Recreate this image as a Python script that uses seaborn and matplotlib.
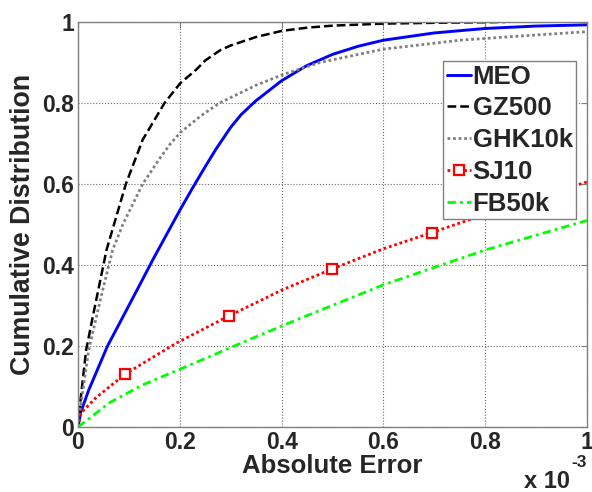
import numpy as np
import matplotlib
matplotlib.use("Agg")
import matplotlib.pyplot as plt
import matplotlib.ticker as tkr
import seaborn as sns

# absolute error values in units of 1e-3, cumulative fraction
meo_x = [0, 0.005, 0.021, 0.058, 0.1, 0.15, 0.2, 0.225, 0.25, 0.271, 0.3, 0.321,
         0.35, 0.4, 0.449, 0.5, 0.55, 0.6, 0.7, 0.8, 0.9, 1.0]
meo_y = [0, 0.035, 0.091, 0.2, 0.3, 0.42, 0.535, 0.59, 0.643, 0.686, 0.74, 0.772,
         0.806, 0.855, 0.892, 0.92, 0.94, 0.955, 0.973, 0.984, 0.99, 0.993]

gz_x = [0, 0.005, 0.016, 0.029, 0.056, 0.094, 0.127, 0.17, 0.201, 0.232, 0.25,
        0.279, 0.3, 0.35, 0.4, 0.45, 0.5, 0.6, 0.7, 0.84]
gz_y = [0, 0.067, 0.19, 0.272, 0.437, 0.6, 0.709, 0.8, 0.849, 0.882, 0.905,
        0.93, 0.942, 0.963, 0.978, 0.986, 0.991, 0.996, 0.998, 1.0]

ghk_x = [0, 0.005, 0.021, 0.045, 0.068, 0.088, 0.127, 0.16, 0.18, 0.201, 0.24,
         0.278, 0.35, 0.4, 0.475, 0.6, 0.75, 0.9, 1.0]
ghk_y = [0, 0.05, 0.19, 0.32, 0.437, 0.5, 0.6, 0.662, 0.697, 0.727, 0.767,
         0.8, 0.844, 0.869, 0.9, 0.933, 0.955, 0.968, 0.976]

sj_x = [0, 0.006, 0.035, 0.093, 0.193, 0.296, 0.35, 0.4, 0.499, 0.6, 0.695,
        0.8, 0.895, 1.0]
sj_y = [0, 0.035, 0.072, 0.131, 0.207, 0.274, 0.307, 0.338, 0.39, 0.44, 0.48,
        0.525, 0.565, 0.605]
sj_marks = [3, 5, 8, 10, 12]

fb_x = [0, 0.062, 0.127, 0.201, 0.35, 0.436, 0.6, 0.8, 1.0]
fb_y = [0, 0.06, 0.104, 0.143, 0.223, 0.268, 0.351, 0.437, 0.51]

SCALE = 1e-3

sns.set_theme(style="white")
plt.rcParams["font.family"] = ["Liberation Sans", "DejaVu Sans"]
plt.rcParams["font.weight"] = "bold"

fig = plt.figure(figsize=(5.92, 4.92), dpi=100)
ax = fig.add_axes([78 / 592, 65 / 492, 509 / 592, 405 / 492])

common = dict(ax=ax, estimator=None, sort=False)
sns.lineplot(x=np.array(meo_x) * SCALE, y=meo_y, color="#0000ff", linewidth=2.1,
             label="MEO", **common)
sns.lineplot(x=np.array(gz_x) * SCALE, y=gz_y, color="black", linewidth=1.8,
             linestyle=(0, (3.5, 1.6)), label="GZ500", **common)
sns.lineplot(x=np.array(ghk_x) * SCALE, y=ghk_y, color="#808080", linewidth=2.0,
             linestyle=(0, (1, 1)), label="GHK10k", **common)
sns.lineplot(x=np.array(sj_x) * SCALE, y=sj_y, color="#ff0000", linewidth=2.0,
             linestyle=(0, (1, 1)), marker="s", markersize=6.5,
             markerfacecolor="white", markeredgecolor="#ff0000",
             markeredgewidth=1.6, markevery=sj_marks, label="SJ10", **common)
sns.lineplot(x=np.array(fb_x) * SCALE, y=fb_y, color="#00ff00", linewidth=2.0,
             linestyle=(0, (3, 1.5, 1, 1.5)), label="FB50k", **common)

ax.set_xlim(0, 1e-3)
ax.set_ylim(0, 1)
ax.set_xticks(np.arange(0, 1.01, 0.2) * SCALE)
ax.set_yticks(np.arange(0, 1.01, 0.2))
ax.xaxis.set_major_formatter(tkr.FuncFormatter(lambda v, p: "%g" % round(v / SCALE, 3)))
ax.yaxis.set_major_formatter(tkr.FuncFormatter(lambda v, p: "%g" % round(v, 3)))

ax.grid(True, linestyle=":", color="#6e6e6e", linewidth=0.8)
for s in ax.spines.values():
    s.set_color("#808080")
    s.set_linewidth(1.0)
ax.tick_params(direction="in", length=4, width=0.8, color="#808080",
               top=True, right=True, labelsize=16.5)
ax.tick_params(axis="x", pad=3)
ax.tick_params(axis="y", pad=3)
for lab in ax.get_xticklabels() + ax.get_yticklabels():
    lab.set_fontweight("bold")

ax.set_xlabel("Absolute Error", fontsize=18.5, fontweight="bold", labelpad=0)
ax.set_ylabel("Cumulative Distribution", fontsize=19.3, fontweight="bold", labelpad=4)
# MATLAB-style exponent label under the right end of the x axis
ax.text(0.967, -0.15, "x 10", transform=ax.transAxes, ha="right",
        va="baseline", fontsize=17, fontweight="bold")
ax.text(0.97, -0.098, "-3", transform=ax.transAxes, ha="left",
        va="baseline", fontsize=12.5, fontweight="bold")

leg = ax.legend(loc="upper left", bbox_to_anchor=(0.717, 0.904), borderaxespad=0,
                fancybox=False, framealpha=1, edgecolor="#808080",
                prop=dict(size=18.5, weight="bold"), handlelength=0.95,
                handletextpad=0.05, labelspacing=0.3, borderpad=0.15)
leg.get_frame().set_linewidth(1.0)

plt.savefig("out.png", dpi=100)
